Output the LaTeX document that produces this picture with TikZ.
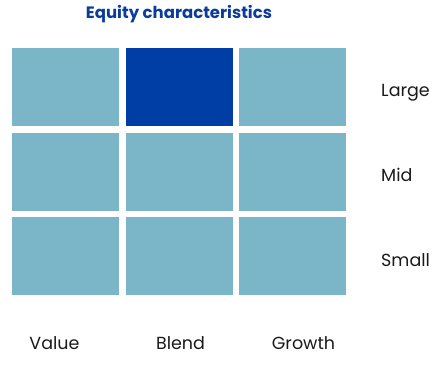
\documentclass[tikz,border=0pt]{standalone}
\usepackage{fontspec}
\setmainfont{Poppins}
\definecolor{lightcell}{HTML}{7BB5C8}
\definecolor{darkcell}{HTML}{003DA5}
\definecolor{titleblue}{HTML}{0B3C9C}
\definecolor{labeltext}{HTML}{1A1A1A}
\begin{document}
\begin{tikzpicture}[x=1pt,y=-1pt,
  cell/.style={fill=lightcell,draw=none},
  hot/.style={fill=darkcell,draw=none},
  rowlab/.style={anchor=base west,inner sep=0pt,text=labeltext,font=\fontsize{17.5}{17.5}\selectfont},
  collab/.style={anchor=base,inner sep=0pt,text=labeltext,font=\fontsize{17.5}{17.5}\selectfont}]
\useasboundingbox (0,0) rectangle (441,375);
% cells
\fill[cell] (12,48) rectangle (119,126);
\fill[hot] (126,48) rectangle (233,126);
\fill[cell] (239,48) rectangle (346,126);
\fill[cell] (12,132.5) rectangle (119,210.5);
\fill[cell] (126,132.5) rectangle (233,210.5);
\fill[cell] (239,132.5) rectangle (346,210.5);
\fill[cell] (12,217) rectangle (119,295);
\fill[cell] (126,217) rectangle (233,295);
\fill[cell] (239,217) rectangle (346,295);
% title
\node (title) [anchor=base,inner sep=0pt,text=titleblue,font=\fontsize{16.5}{16.5}\selectfont\bfseries] at (179,18.5) {Equity characteristics};
% row labels
\node (large) [rowlab] at (381,96.5) {Large};
\node (mid) [rowlab] at (381,181.5) {Mid};
\node (small) [rowlab] at (381,266.5) {Small};
% column labels
\node (value) [collab] at (54.5,349) {Value};
\node (blend) [collab] at (180.5,349) {Blend};
\node (growth) [collab] at (303.5,349) {Growth};
\end{tikzpicture}
\end{document}
